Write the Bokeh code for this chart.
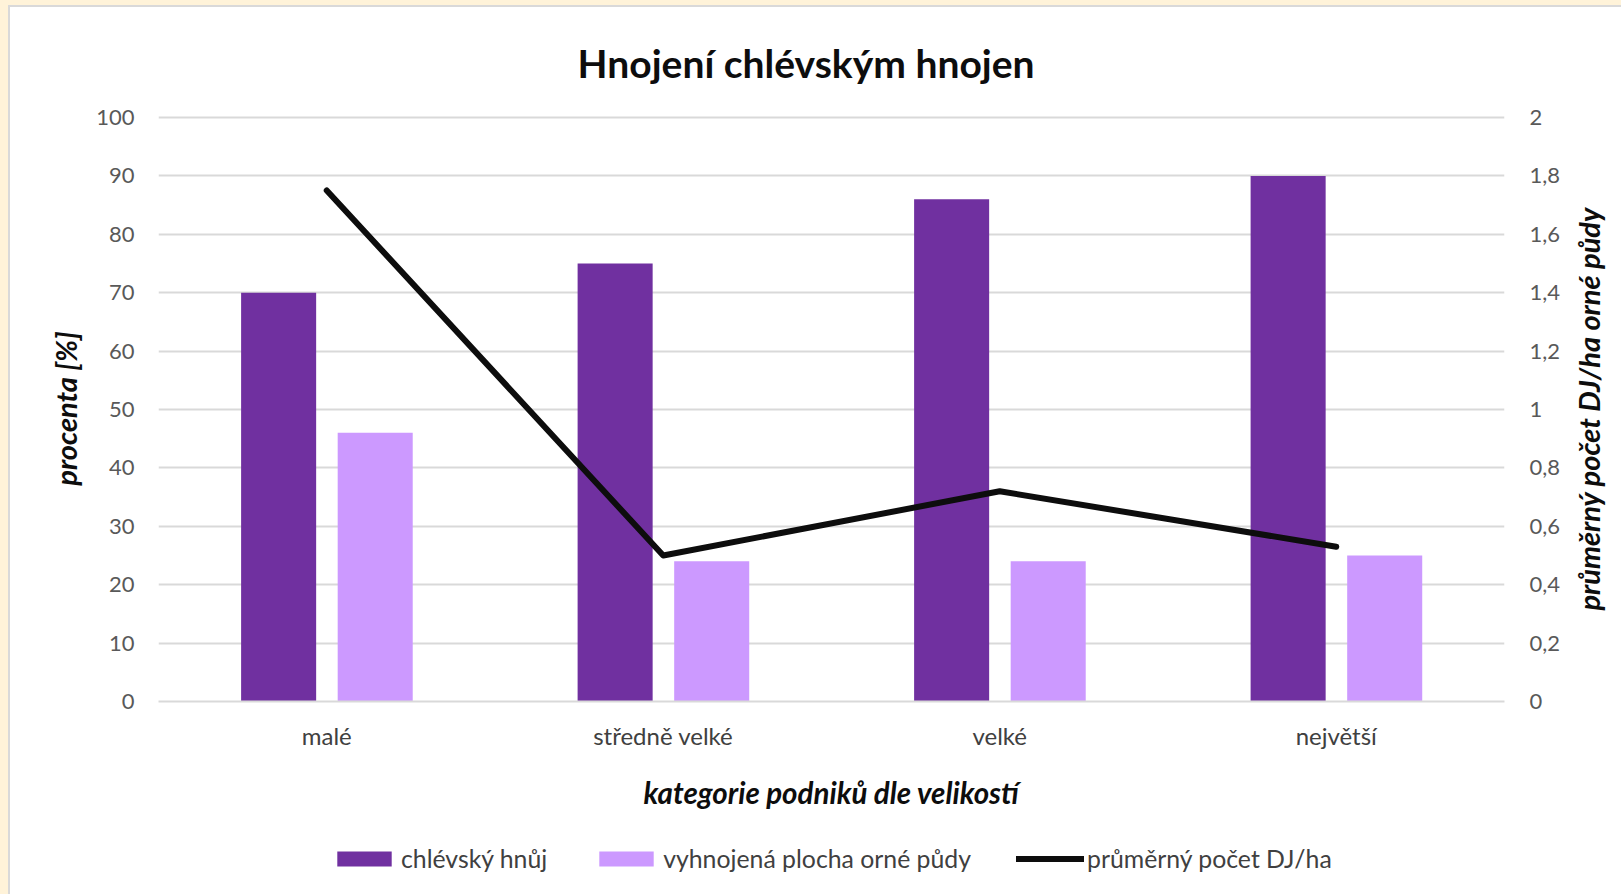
import math
from bokeh.plotting import figure
from bokeh.layouts import column, row
from bokeh.models import (FactorRange, Range1d, LinearAxis, FixedTicker, Legend,
                          LegendItem, Title, Label, ColumnDataSource)
from bokeh.transform import dodge
from bokeh.embed import file_html
from bokeh.resources import INLINE

# ---- data ----
categories = ["malé", "středně velké", "velké", "největší"]
manure = [70, 75, 86, 90]                       # chlévský hnůj [%]
fertilized_area = [46, 24, 24, 25]              # vyhnojená plocha orné půdy [%]
livestock_density = [1.75, 0.5, 0.72, 0.53]     # průměrný počet DJ/ha
left_ticks = [0, 10, 20, 30, 40, 50, 60, 70, 80, 90, 100]
right_ticks = [0, 0.2, 0.4, 0.6, 0.8, 1, 1.2, 1.4, 1.6, 1.8, 2]
right_tick_labels = ["0", "0,2", "0,4", "0,6", "0,8", "1", "1,2", "1,4", "1,6", "1,8", "2"]

title_text = "Hnojení chlévským hnojen"
x_title = "kategorie podniků dle velikostí"
y_left_title = "procenta [%]"
y_right_title = "průměrný počet DJ/ha orné půdy"
series_names = ["chlévský hnůj", "vyhnojená plocha orné půdy", "průměrný počet DJ/ha"]

FONT = "Lato"
DARK = "#7030A0"
LIGHT = "#CC99FF"
GRID = "#D9D9D9"
INK = "#0D0D0D"

source = ColumnDataSource(dict(cat=categories, manure=manure, area=fertilized_area,
                               density=livestock_density))

# ---------------- main chart ----------------
p = figure(width=1555, height=813,
           x_range=FactorRange(factors=categories, range_padding=0),
           y_range=Range1d(0, 100.34),
           output_backend="svg", toolbar_location=None,
           min_border_left=148, min_border_right=61,
           min_border_top=108, min_border_bottom=119,
           background_fill_color="white", border_fill_color="white")
p.outline_line_color = None
p.extra_y_ranges = {"dj": Range1d(0, 2.0068)}

r1 = p.vbar(x=dodge("cat", -0.143, range=p.x_range), top="manure", width=0.223,
            source=source, fill_color=DARK, line_color=None)
r2 = p.vbar(x=dodge("cat", 0.144, range=p.x_range), top="area", width=0.223,
            source=source, fill_color=LIGHT, line_color=None)
r3 = p.line(x="cat", y="density", source=source, y_range_name="dj",
            line_color=INK, line_width=6, line_cap="round", line_join="round")

p.title = Title(text=title_text, align="left", offset=419, vertical_align="bottom",
                standoff=60, text_font=FONT, text_font_size="39px",
                text_font_style="bold", text_color=INK)

p.xgrid.grid_line_color = None
p.ygrid.grid_line_color = GRID
p.ygrid.grid_line_width = 2
p.ygrid.ticker = FixedTicker(ticks=left_ticks)

xa = p.xaxis[0]
xa.axis_line_color = GRID
xa.axis_line_width = 2
xa.major_tick_line_color = None
xa.minor_tick_line_color = None
xa.major_label_text_font = FONT
xa.major_label_text_font_size = "24px"
xa.major_label_text_color = "#404040"
xa.major_label_standoff = 13
xa.axis_label = x_title
xa.axis_label_text_font = FONT
xa.axis_label_text_font_size = "29.5px"
xa.axis_label_text_font_style = "bold italic"
xa.axis_label_text_color = INK
xa.axis_label_standoff = 22

ya = p.yaxis[0]
ya.ticker = FixedTicker(ticks=left_ticks)
ya.axis_line_color = None
ya.major_tick_line_color = None
ya.minor_tick_line_color = None
ya.major_label_text_font = FONT
ya.major_label_text_font_size = "22px"
ya.major_label_text_color = "#595959"
ya.major_label_standoff = 18
ya.axis_label = y_left_title
ya.axis_label_text_font = FONT
ya.axis_label_text_font_size = "29px"
ya.axis_label_text_font_style = "bold italic"
ya.axis_label_text_color = INK
ya.axis_label_standoff = 10

ra = LinearAxis(y_range_name="dj", ticker=FixedTicker(ticks=right_ticks),
                major_label_overrides=dict(zip(right_ticks, right_tick_labels)))
ra.axis_line_color = None
ra.major_tick_line_color = None
ra.minor_tick_line_color = None
ra.major_label_text_font = FONT
ra.major_label_text_font_size = "22px"
ra.major_label_text_color = "#595959"
ra.major_label_standoff = 19
p.add_layout(ra, "right")

# ---------------- right axis title strip ----------------
strip = figure(width=56, height=813, x_range=Range1d(0, 56), y_range=Range1d(0, 813),
               output_backend="svg", toolbar_location=None,
               x_axis_location=None, y_axis_location=None,
               min_border=0, background_fill_color="white", border_fill_color="white")
strip.outline_line_color = None
strip.grid.visible = False
strip.add_layout(Label(x=23, y=406, text=y_right_title, angle=math.pi / 2,
                       text_align="center", text_baseline="middle",
                       text_font=FONT, text_font_size="29px",
                       text_font_style="bold italic", text_color=INK))

# ---------------- legend strip ----------------
lg = figure(width=1611, height=74, x_range=Range1d(0, 1611), y_range=Range1d(0, 74),
            output_backend="svg", toolbar_location=None,
            x_axis_location=None, y_axis_location=None,
            min_border=0, background_fill_color="white", border_fill_color="white")
lg.outline_line_color = None
lg.grid.visible = False
placeholder = ColumnDataSource(dict(x=[float("nan")], y=[float("nan")]))
g1 = lg.vbar(x="x", top="y", width=1, source=placeholder, fill_color=DARK, line_color=None)
g2 = lg.vbar(x="x", top="y", width=1, source=placeholder, fill_color=LIGHT, line_color=None)
g3 = lg.line(x="x", y="y", source=placeholder, line_color=INK, line_width=6, line_cap="round")

legend = Legend(items=[LegendItem(label=series_names[0], renderers=[g1]),
                       LegendItem(label=series_names[1], renderers=[g2]),
                       LegendItem(label=series_names[2], renderers=[g3])],
                orientation="horizontal", location=(320, 21),
                glyph_width=68, glyph_height=19, label_standoff=3, spacing=45,
                padding=0, margin=0, border_line_color=None,
                background_fill_alpha=0,
                label_text_font=FONT, label_text_font_size="24.8px",
                label_text_color="#404040")
lg.add_layout(legend, "center")

inner = column(row(p, strip, styles={"background-color": "white"}), lg,
               styles={"background-color": "white", "outline": "2px solid #D9D9D9"})
page = column(inner, styles={"background-color": "#FFF3D9",
                             "padding-left": "10px", "padding-top": "7px"})

open("out.html", "w").write(file_html(page, INLINE))
